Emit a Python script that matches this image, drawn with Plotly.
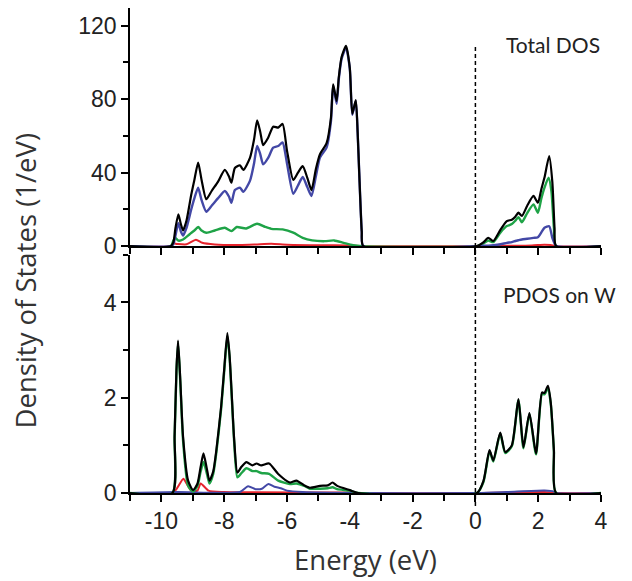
import plotly.graph_objects as go

# ---------------- Top panel: Total DOS ----------------
tot_E = [-11, -9.7, -9.62, -9.55, -9.46, -9.38, -9.31, -9.2, -9.05, -8.95, -8.83, -8.72, -8.57,
         -8.4, -8.2, -7.98, -7.85, -7.77, -7.66, -7.5, -7.39, -7.18, -7.05, -6.95, -6.85, -6.76,
         -6.6, -6.44, -6.28, -6.14, -6.0, -5.8, -5.65, -5.5, -5.35, -5.22, -5.08, -4.95, -4.74,
         -4.6, -4.53, -4.42, -4.35, -4.26, -4.12, -4.0, -3.92, -3.81, -3.75, -3.7, -3.62, -3.57,
         0.05, 0.25, 0.41, 0.57, 0.8, 1.0, 1.16, 1.27, 1.37, 1.48, 1.65, 1.85, 1.99, 2.1, 2.2,
         2.35, 2.45, 2.52, 2.57, 4]
tot_total = [0, 0, 2, 10, 17.3, 12, 8.5, 14, 28, 36, 45.5, 36, 25.5,
             30, 35, 41.5, 38, 34.5, 42.5, 44, 41.5, 48, 58, 68.5, 62, 55,
             59, 65, 64.5, 66.5, 52, 36, 40, 43.5, 37, 30.5, 42, 50, 56,
             70, 88, 79, 92, 103, 109, 97, 72, 79.5, 62, 40, 8, 0,
             0, 2, 4.5, 2.8, 9, 13.6, 14.4, 16, 18.2, 16.4, 22, 27.3, 23.6, 31, 37.3,
             49, 35, 10, 0, 0]
tot_blue = [0, 0, 1, 6, 12.5, 8, 5.8, 10, 20, 26, 31.8, 25, 18.7,
            22, 26, 30, 27, 23.6, 30.5, 31.8, 29.6, 35.5, 45, 54.5, 50, 44.5,
            48, 53.6, 54.5, 56.4, 45, 28.5, 33, 37.6, 32, 27.3, 38, 48.2, 53.6,
            68, 87.3, 77.5, 91, 102, 108, 96.5, 71.5, 79, 61.5, 40, 8, 0,
            0, 0.2, 0.3, 0.5, 1.0, 1.8, 2.2, 2.8, 3.2, 3.6, 4.0, 4.5, 4.8, 7.5, 10,
            10.8, 4.5, 1.5, 0, 0]

grn_E = [-11, -9.7, -9.62, -9.55, -9.46, -9.31, -9.1, -8.95, -8.83, -8.72, -8.57, -8.3, -7.98,
         -7.77, -7.6, -7.3, -6.95, -6.7, -6.5, -6.14, -5.8, -5.5, -5.2, -4.8, -4.5, -4.2, -3.9,
         -3.6, 0.05, 0.25, 0.41, 0.57, 0.8, 1.0, 1.16, 1.27, 1.37, 1.48, 1.65, 1.85, 1.99, 2.1,
         2.2, 2.33, 2.42, 2.5, 2.57, 4]
tot_green = [0, 0, 3, 4.5, 3, 3.6, 6.5, 8.5, 10.4, 8.5, 7.3, 8.5, 10,
             8.2, 10.4, 9.6, 12.2, 10.5, 9.4, 9.1, 7.3, 4.5, 3.1, 2.7, 3.1, 1.8, 0.5,
             0, 0, 1.5, 3, 2.2, 7.5, 10.9, 12, 13.8, 15.8, 13, 18, 22.7, 18.2, 26,
             31.8, 37.3, 30, 10, 0, 0]

red_E = [-11, -9.7, -9.62, -9.5, -9.2, -8.9, -8.7, -8.3, -7.5, -7.0, -6.5, -6.0, -5.0, -4.0,
         -3.6, 0.05, 1.0, 1.8, 2.2, 2.4, 2.57, 4]
tot_red = [0, 0, 1.5, 1.2, 1.0, 3.5, 1.8, 0.9, 0.6, 0.9, 1.3, 0.8, 0.5, 0.3,
           0, 0, 0.2, 0.4, 0.8, 0.6, 0, 0]

# ---------------- Bottom panel: PDOS on W ----------------
pd_E = [-11, -9.65, -9.58, -9.52, -9.47, -9.4, -9.31, -9.15, -8.99, -8.85, -8.75, -8.66, -8.55,
        -8.47, -8.35, -8.25, -8.1, -8.0, -7.9, -7.83, -7.77, -7.68, -7.58, -7.45, -7.29, -7.1,
        -6.97, -6.82, -6.57, -6.28, -5.91, -5.7, -5.45, -5.27, -4.95, -4.7, -4.55, -4.4, -4.0,
        -3.73, 0.05, 0.26, 0.45, 0.57, 0.79, 0.95, 1.16, 1.37, 1.53, 1.72, 1.93, 2.12, 2.2,
        2.31, 2.4, 2.5, 2.57, 4]
pd_total = [0, 0, 1.2, 2.6, 3.2, 2.4, 1.18, 0.26, 0.06, 0.2, 0.55, 0.83, 0.5,
            0.26, 0.45, 0.9, 1.8, 2.6, 3.36, 2.9, 2.2, 1.1, 0.43, 0.55, 0.65, 0.58,
            0.62, 0.58, 0.62, 0.4, 0.22, 0.26, 0.16, 0.11, 0.15, 0.16, 0.22, 0.15, 0.06,
            0, 0, 0.26, 0.9, 0.68, 1.27, 0.86, 1.0, 1.97, 0.96, 1.68, 0.83, 2.11, 2.1,
            2.25, 1.9, 0.9, 0, 0]
pd_green = [0, 0, 1.15, 2.55, 3.15, 2.35, 1.1, 0.15, 0.03, 0.15, 0.45, 0.65, 0.4,
            0.2, 0.4, 0.85, 1.75, 2.55, 3.3, 2.85, 2.15, 1.05, 0.33, 0.42, 0.52, 0.46,
            0.46, 0.42, 0.4, 0.26, 0.19, 0.2, 0.15, 0.09, 0.09, 0.1, 0.12, 0.08, 0.05,
            0, 0, 0.24, 0.88, 0.66, 1.25, 0.84, 0.98, 1.95, 0.94, 1.66, 0.81, 2.08, 2.07,
            2.2, 1.87, 0.88, 0, 0]

pb_E = [-11, -9.5, -7.5, -7.24, -7.0, -6.8, -6.59, -6.4, -6.2, -6.0, -5.5, -3.7, 0.05, 1.0,
        2.2, 2.5, 2.57, 4]
pd_blue = [0, 0.02, 0.02, 0.14, 0.08, 0.09, 0.19, 0.13, 0.1, 0.05, 0.02, 0, 0, 0.02,
           0.05, 0.03, 0, 0]

pr_E = [-11, -9.65, -9.5, -9.3, -9.2, -9.05, -8.85, -8.75, -8.5, -8.0, -4.0, -3.7, 0.05, 2.2,
        2.57, 4]
pd_red = [0, 0, 0.1, 0.3, 0.2, 0.05, 0.05, 0.2, 0.05, 0.02, 0.01, 0, 0, 0.02,
          0, 0]

C_BLACK = "#000000"
C_BLUE = "#4348a6"
C_GREEN = "#1fa347"
C_RED = "#e5232c"

fig = go.Figure()

def add(x, y, color, xa, ya, width=2.0):
    fig.add_trace(go.Scatter(x=x, y=y, mode="lines", xaxis=xa, yaxis=ya,
                             line=dict(color=color, width=width, shape="spline", smoothing=0.6),
                             showlegend=False, hoverinfo="skip"))

# top panel
add(red_E, tot_red, C_RED, "x2", "y2")
add(grn_E, tot_green, C_GREEN, "x2", "y2", 2.4)
add(tot_E, tot_blue, C_BLUE, "x2", "y2", 2.4)
add(tot_E, tot_total, C_BLACK, "x2", "y2", 2.2)
# bottom panel
add(pr_E, pd_red, C_RED, "x", "y")
add(pb_E, pd_blue, C_BLUE, "x", "y")
add(pd_E, pd_green, C_GREEN, "x", "y", 2.4)
add(pd_E, pd_total, C_BLACK, "x", "y", 2.2)

tick_font = dict(family="Liberation Sans, Arial", size=23, color="#222")
title_font = dict(family="Open Sans", size=27.5, color="#333")
ann_font = dict(family="Lato, Open Sans", size=21, color="#222")

x_ticks = [-10, -8, -6, -4, -2, 0, 2, 4]
y_top_ticks = [0, 40, 80, 120]
y_bot_ticks = [0, 2, 4]

axis_common = dict(showline=True, linecolor="black", linewidth=1.6, ticks="outside",
                   tickcolor="black", tickwidth=1.5, showgrid=False, zeroline=False)

fig.update_layout(
    width=632, height=581,
    margin=dict(l=130, r=31, t=8, b=88),
    paper_bgcolor="white", plot_bgcolor="white",
    xaxis=dict(domain=[0, 1], anchor="y", range=[-11, 4], tickvals=x_ticks,
               ticktext=[str(v) for v in x_ticks], ticklen=7, tickfont=tick_font,
               minor=dict(dtick=1, tick0=0, ticks="outside", ticklen=6, tickcolor="black",
                          tickwidth=1.5), **axis_common),
    xaxis2=dict(domain=[0, 1], anchor="y2", matches="x", range=[-11, 4], tickvals=x_ticks,
                showticklabels=False, ticklen=7,
                minor=dict(dtick=1, tick0=0, ticks="outside", ticklen=6, tickcolor="black",
                           tickwidth=1.5), **axis_common),
    yaxis=dict(domain=[0, 0.491], anchor="x", range=[0, 5.0], tickvals=y_bot_ticks,
               ticklen=7, tickfont=tick_font,
               minor=dict(dtick=1, tick0=0, ticks="outside", ticklen=5, tickcolor="black",
                          tickwidth=1.5), **axis_common),
    yaxis2=dict(domain=[0.509, 1], anchor="x2", range=[0, 129.6], tickvals=y_top_ticks,
                ticklen=7, tickfont=tick_font,
                minor=dict(dtick=20, tick0=0, ticks="outside", ticklen=5, tickcolor="black",
                           tickwidth=1.5), **axis_common),
    shapes=[dict(type="line", xref="x", yref="paper", x0=0, x1=0, y0=-0.027, y1=0.925,
                 line=dict(color="black", width=1.5, dash="4px,3px"))],
    annotations=[
        dict(text="Total DOS", xref="paper", yref="paper", x=0.795, y=0.925,
             xanchor="left", yanchor="middle", showarrow=False, font=ann_font),
        dict(text="PDOS on W", xref="paper", yref="paper", x=0.787, y=0.41,
             xanchor="left", yanchor="middle", showarrow=False, font=ann_font),
        dict(text="Energy (eV)", xref="paper", yref="paper", x=0.5, y=-0.138,
             xanchor="center", yanchor="middle", showarrow=False, font=title_font),
        dict(text="Density of States (1/eV)", xref="paper", yref="paper", x=-0.221, y=0.438,
             xanchor="center", yanchor="middle", textangle=-90, showarrow=False, font=title_font),
    ],
)

fig.write_html("out.html")
